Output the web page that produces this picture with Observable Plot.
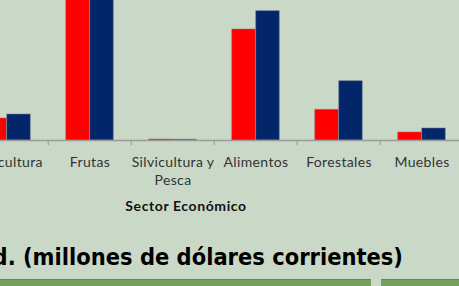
<!DOCTYPE html>
<html>
<head>
<meta charset="utf-8">
<script src="https://cdn.jsdelivr.net/npm/d3@7"></script>
<script src="https://cdn.jsdelivr.net/npm/@observablehq/plot@0.6"></script>
<style>
  html, body { margin: 0; padding: 0; overflow: hidden; background: #cad9c7; }
  #wrap { position: relative; width: 459px; height: 286px; background: #cad9c7; overflow: hidden; }
  #title { position: absolute; top: 245.5px; right: 56px; font: bold 23px "DejaVu Sans", sans-serif; line-height: 1; white-space: nowrap; color: #000; transform-origin: right center; }
  .strip { position: absolute; top: 279px; height: 7px; background: #73a05f; border-top: 1px solid #5e8a4c; box-sizing: border-box; }
  .ticklab text { letter-spacing: 0.35px; }
  .axtitle text { letter-spacing: 0.6px; }
</style>
</head>
<body>
<div id="wrap"></div>
<script>
// Data (millones de dólares corrientes) — series A (red) and B (blue)
const categories = ["Agricultura", "Frutas", "Silvicultura y Pesca", "Alimentos", "Forestales", "Muebles"];
const tickLabels = ["Agricultura", "Frutas", "Silvicultura y\nPesca", "Alimentos", "Forestales", "Muebles"];
const seriesRed  = [220, 1850, 10, 1110, 307, 80];
const seriesBlue = [260, 2050, 8, 1293, 593, 120];
const axisTitle = "Sector Económico";
const titleText = "(millones de dólares corrientes)";

const redData = categories.map((c, i) => ({cat: c, v: seriesRed[i]}));
const blueData = categories.map((c, i) => ({cat: c, v: seriesBlue[i]}));
const labelData = categories.map((c, i) => ({cat: c, label: tickLabels[i]}));

const half = 83.5 / 2;
const barW = 24;

const chart = Plot.plot({
  width: 459,
  height: 222,
  marginTop: 0,
  marginBottom: 82,
  marginLeft: 0,
  marginRight: 0,
  style: {background: "transparent", overflow: "hidden"},
  x: {domain: categories, range: [-36.75, 464.25], padding: 0, axis: null},
  y: {domain: [0, 1400], axis: null},
  marks: [
    Plot.barY(redData, {x: "cat", y: "v", fill: "#ff0000", stroke: "#9a6b6b", strokeWidth: 0.8, strokeOpacity: 0.6, insetLeft: half - barW, insetRight: half, clip: true}),
    Plot.barY(blueData, {x: "cat", y: "v", fill: "#032569", stroke: "#6f7a8a", strokeWidth: 0.8, strokeOpacity: 0.7, insetLeft: half, insetRight: half - barW, clip: true}),
    Plot.ruleY([0], {stroke: "#9b9b9b", strokeWidth: 1.5}),
    Plot.ruleX(categories.slice(1), {x: d => d, dx: -half, y1: 0, y2: -50, stroke: "#9b9b9b", strokeWidth: 1.2}),
    Plot.text(labelData, {x: "cat", y: 0, text: "label", dy: 14.5, lineAnchor: "top", lineHeight: 1.25, fontSize: 14, fill: "#333", fontFamily: "Lato", className: "ticklab"}),
    Plot.text([axisTitle], {frameAnchor: "bottom", dx: -44, dy: 70, text: d => d, lineAnchor: "bottom", fontSize: 14, fontWeight: "bold", fill: "#111", fontFamily: "Lato", className: "axtitle"})
  ]
});

const wrap = document.getElementById("wrap");
wrap.appendChild(chart);

const title = document.createElement("div");
title.id = "title";
title.append("d. ");
const span = document.createElement("span");
span.textContent = titleText;
title.appendChild(span);
wrap.appendChild(title);
const w = span.getBoundingClientRect().width;
title.style.transform = `scaleX(${380 / w})`;

const s1 = document.createElement("div");
s1.className = "strip"; s1.style.left = "0px"; s1.style.width = "371px";
const s2 = document.createElement("div");
s2.className = "strip"; s2.style.left = "381px"; s2.style.width = "78px";
wrap.append(s1, s2);
</script>
</body>
</html>
